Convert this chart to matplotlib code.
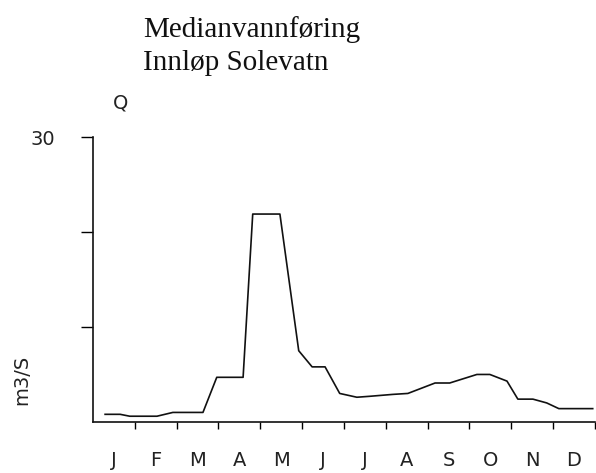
import matplotlib
matplotlib.use("Agg")
from matplotlib import pyplot as plt

# month position (0 = start of Jan, 12 = end of Dec) and median flow, m3/s
t = [0.29, 0.65, 0.88, 1.53, 1.91, 2.63, 2.96, 3.59, 3.82, 4.47, 4.92,
     5.24, 5.55, 5.90, 6.31, 6.62, 7.17, 7.53, 8.18, 8.53, 9.18, 9.49,
     9.90, 10.16, 10.52, 10.85, 11.14, 11.95]
q = [0.8, 0.8, 0.6, 0.6, 1.0, 1.0, 4.7, 4.7, 21.9, 21.9, 7.5,
     5.8, 5.8, 3.0, 2.6, 2.7, 2.9, 3.0, 4.1, 4.1, 5.0, 5.0,
     4.3, 2.4, 2.4, 2.0, 1.4, 1.4]
months = ['J', 'F', 'M', 'A', 'M', 'J', 'J', 'A', 'S', 'O', 'N', 'D']

fig = plt.figure(figsize=(5.96, 4.73), dpi=100)
ax = fig.add_axes([0.156, 0.108, 0.842, 0.602])

ax.plot(t, q, c='#111111', lw=1.2)

ax.set_xlim(0, 12)
ax.set_ylim(0, 30)
for s in ['top', 'right']:
    ax.spines[s].set_visible(False)
for s in ['left', 'bottom']:
    ax.spines[s].set_linewidth(1.2)
    ax.spines[s].set_color('#111111')

ax.set_yticks([10, 20, 30])
ax.set_yticklabels(['', '', '30'], fontsize=14, color='#222222')
ax.set_xticks(range(1, 13))
ax.set_xticklabels([])
ax.set_xticks([i + 0.5 for i in range(12)], minor=True)
ax.set_xticklabels(months, minor=True, fontsize=14, color='#222222')
ax.tick_params(axis='x', which='major', length=5, width=1, direction='out')
ax.tick_params(axis='x', which='minor', length=0, pad=21)
ax.tick_params(axis='y', length=9, width=1, direction='out', pad=18)

fig.text(0.202, 0.782, 'Q', fontsize=14, color='#222222', ha='center', va='center')
fig.text(0.037, 0.196, 'm3/S', fontsize=14, color='#222222', rotation=90,
         ha='center', va='center')

fig.text(0.24, 0.922, 'Medianvannføring', fontsize=21, family='Liberation Serif',
         ha='left', va='baseline', color='#111111')
fig.text(0.24, 0.852, 'Innløp Solevatn', fontsize=21, family='Liberation Serif',
         ha='left', va='baseline', color='#111111')

plt.savefig('out.png', dpi=100)
